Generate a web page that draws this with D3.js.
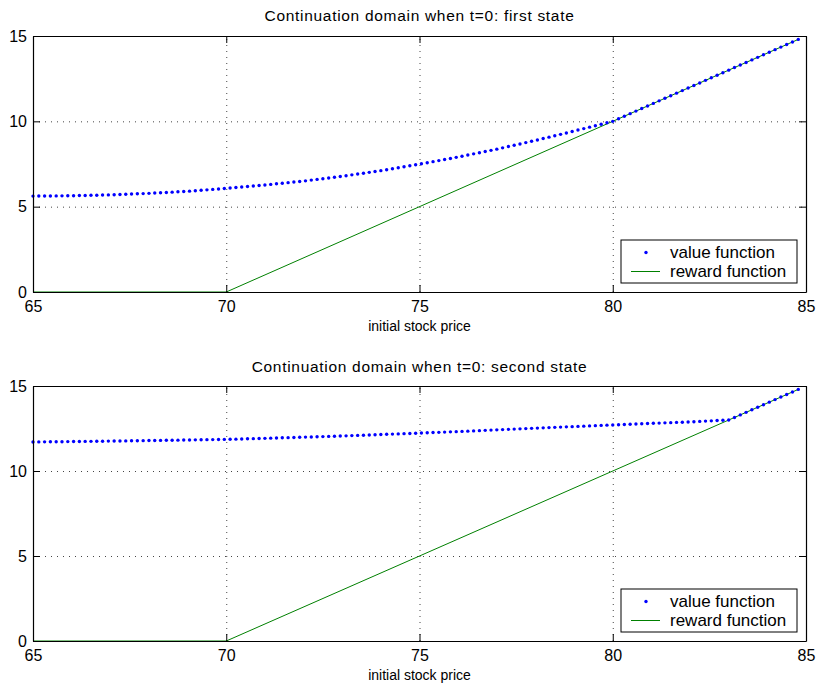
<!DOCTYPE html>
<html>
<head>
<meta charset="utf-8">
<script src="https://cdn.jsdelivr.net/npm/d3@7"></script>
<style>
  html, body { margin: 0; padding: 0; background: #fff; }
  svg { display: block; font-family: "Liberation Sans", Arial, Helvetica, sans-serif; }
</style>
</head>
<body>
<svg id="chart" width="819" height="691"></svg>
<script>
// ---------------- data ----------------
const stockPrice = [
  65.00,65.15,65.30,65.45,65.60,65.75,65.90,66.05,66.20,66.35,66.50,66.65,66.80,66.95,67.10,67.25,67.40,67.55,67.70,67.85,
  68.00,68.15,68.30,68.45,68.60,68.75,68.90,69.05,69.20,69.35,69.50,69.65,69.80,69.95,70.10,70.25,70.40,70.55,70.70,70.85,
  71.00,71.15,71.30,71.45,71.60,71.75,71.90,72.05,72.20,72.35,72.50,72.65,72.80,72.95,73.10,73.25,73.40,73.55,73.70,73.85,
  74.00,74.15,74.30,74.45,74.60,74.75,74.90,75.05,75.20,75.35,75.50,75.65,75.80,75.95,76.10,76.25,76.40,76.55,76.70,76.85,
  77.00,77.15,77.30,77.45,77.60,77.75,77.90,78.05,78.20,78.35,78.50,78.65,78.80,78.95,79.10,79.25,79.40,79.55,79.70,79.85,
  80.00,80.15,80.30,80.45,80.60,80.75,80.90,81.05,81.20,81.35,81.50,81.65,81.80,81.95,82.10,82.25,82.40,82.55,82.70,82.85,
  83.00,83.15,83.30,83.45,83.60,83.75,83.90,84.05,84.20,84.35,84.50,84.65,84.80
];
const valueFirstState = [
  5.62,5.623,5.626,5.629,5.632,5.635,5.638,5.643,5.65,5.658,
  5.665,5.673,5.68,5.688,5.699,5.713,5.726,5.74,5.753,5.767,
  5.78,5.798,5.816,5.834,5.852,5.87,5.888,5.909,5.934,5.96,
  5.985,6.011,6.036,6.062,6.09,6.12,6.15,6.18,6.21,6.24,
  6.27,6.305,6.339,6.374,6.408,6.443,6.477,6.514,6.556,6.598,
  6.64,6.682,6.724,6.766,6.813,6.863,6.912,6.962,7.011,7.061,
  7.11,7.167,7.224,7.281,7.338,7.395,7.452,7.511,7.574,7.637,
  7.7,7.763,7.826,7.889,7.956,8.025,8.094,8.163,8.232,8.301,
  8.37,8.447,8.523,8.6,8.676,8.753,8.829,8.908,8.99,9.073,
  9.155,9.238,9.32,9.403,9.488,9.575,9.66,9.745,9.83,9.915,
  10,10.15,10.3,10.45,10.6,10.75,10.9,11.05,11.2,11.35,
  11.5,11.65,11.8,11.95,12.1,12.25,12.4,12.55,12.7,12.85,
  13,13.15,13.3,13.45,13.6,13.75,13.9,14.05,14.2,14.35,
  14.5,14.65,14.8
];
const valueSecondState = [
  11.71,11.713,11.716,11.719,11.722,11.725,11.728,11.732,11.736,11.741,
  11.745,11.75,11.754,11.759,11.763,11.768,11.772,11.777,11.781,11.786,
  11.79,11.795,11.801,11.806,11.811,11.816,11.822,11.827,11.832,11.837,
  11.843,11.848,11.853,11.858,11.866,11.875,11.884,11.893,11.902,11.911,
  11.92,11.931,11.941,11.952,11.962,11.973,11.983,11.994,12.004,12.015,
  12.025,12.036,12.046,12.057,12.069,12.081,12.094,12.107,12.12,12.132,
  12.145,12.158,12.171,12.183,12.196,12.209,12.222,12.235,12.248,12.262,
  12.275,12.289,12.302,12.316,12.33,12.345,12.36,12.375,12.39,12.405,
  12.42,12.435,12.45,12.465,12.48,12.495,12.51,12.525,12.539,12.553,
  12.568,12.582,12.596,12.61,12.625,12.639,12.653,12.667,12.682,12.696,
  12.71,12.724,12.737,12.751,12.764,12.778,12.791,12.805,12.818,12.832,
  12.845,12.859,12.872,12.886,12.901,12.918,12.934,12.951,12.967,12.984,
  13,13.15,13.3,13.45,13.6,13.75,13.9,14.05,14.2,14.35,
  14.5,14.65,14.8
];
const rewardX = [65, 70, 84.8];
const rewardY = [0, 0, 14.8];
const xTicks = [65, 70, 75, 80, 85];
const yTicks = [0, 5, 10, 15];
const titles = ["Continuation domain when t=0: first state", "Continuation domain when t=0: second state"];
const xLabel = "initial stock price";
const legendLabels = ["value function", "reward function"];

// ---------------- layout ----------------
const svg = d3.select("#chart");
const left = 33, right = 806;
const panels = [
  { top: 36, bottom: 292, values: valueFirstState, title: titles[0], titleY: 20.5 },
  { top: 386, bottom: 641, values: valueSecondState, title: titles[1], titleY: 371.5 }
];

panels.forEach(p => {
  const w = right - left, h = p.bottom - p.top;
  const x = d3.scaleLinear().domain([65, 85]).range([0, w]);
  const y = d3.scaleLinear().domain([0, 15]).range([h, 0]);
  const g = svg.append("g").attr("transform", `translate(${left},${p.top})`);

  // grid
  const gx = g.append("g").attr("transform", `translate(0,${h})`)
    .call(d3.axisBottom(x).tickValues([70, 75, 80]).tickSize(-h).tickFormat(""));
  const gy = g.append("g")
    .call(d3.axisLeft(y).tickValues([5, 10]).tickSize(-w).tickFormat(""));
  [gx, gy].forEach(a => {
    a.select(".domain").remove();
    a.selectAll("line").attr("stroke", "#444").attr("stroke-width", 1).attr("stroke-dasharray", "1,5");
  });

  // reward line
  const rewardPts = rewardX.map((v, i) => [v, rewardY[i]]);
  g.append("path").datum(rewardPts)
    .attr("fill", "none").attr("stroke", "#008000").attr("stroke-width", 1)
    .attr("d", d3.line().x(d => x(d[0])).y(d => y(d[1])));

  // value dots
  g.append("g").selectAll("circle").data(stockPrice.map((s, i) => [s, p.values[i]]))
    .join("circle")
    .attr("cx", d => x(d[0])).attr("cy", d => y(d[1])).attr("r", 1.7)
    .attr("fill", "#0000ff");

  // axes (ticks inward)
  const axB = g.append("g").attr("transform", `translate(0,${h})`)
    .call(d3.axisBottom(x).tickValues(xTicks).tickSizeInner(-7).tickSizeOuter(0).tickPadding(9));
  const axT = g.append("g")
    .call(d3.axisTop(x).tickValues(xTicks).tickSizeInner(-7).tickSizeOuter(0).tickFormat(""));
  const axL = g.append("g")
    .call(d3.axisLeft(y).tickValues(yTicks).tickSizeInner(-7).tickSizeOuter(0).tickPadding(6));
  const axR = g.append("g").attr("transform", `translate(${w},0)`)
    .call(d3.axisRight(y).tickValues(yTicks).tickSizeInner(-7).tickSizeOuter(0).tickFormat(""));
  [axB, axT, axL, axR].forEach(a => {
    a.select(".domain").attr("stroke", "#000").attr("stroke-width", 1.2);
    a.selectAll(".tick line").attr("stroke", "#000");
    a.selectAll("text").attr("font-size", 16).attr("fill", "#000")
      .attr("font-family", "'Liberation Sans', Arial, sans-serif");
  });

  // title
  svg.append("text").attr("x", (left + right) / 2).attr("y", p.titleY)
    .attr("text-anchor", "middle").attr("font-size", 15.5).attr("letter-spacing", 0.7)
    .text(p.title);
  // x label
  svg.append("text").attr("x", (left + right) / 2).attr("y", p.bottom + 39)
    .attr("text-anchor", "middle").attr("font-size", 14).text(xLabel);

  // legend
  const lg = g.append("g").attr("transform", `translate(${621 - left},${h - 52})`);
  lg.append("rect").attr("width", 176).attr("height", 43)
    .attr("fill", "#fff").attr("stroke", "#000").attr("stroke-width", 1);
  lg.append("circle").attr("cx", 25).attr("cy", 12.5).attr("r", 1.7).attr("fill", "#0000ff");
  lg.append("line").attr("x1", 10).attr("x2", 39).attr("y1", 31.5).attr("y2", 31.5)
    .attr("stroke", "#008000").attr("stroke-width", 1);
  lg.selectAll("text.lab").data(legendLabels).join("text").attr("class", "lab")
    .attr("x", 49).attr("y", (d, i) => 18 + i * 19)
    .attr("font-size", 17).text(d => d);
});
</script>
</body>
</html>
